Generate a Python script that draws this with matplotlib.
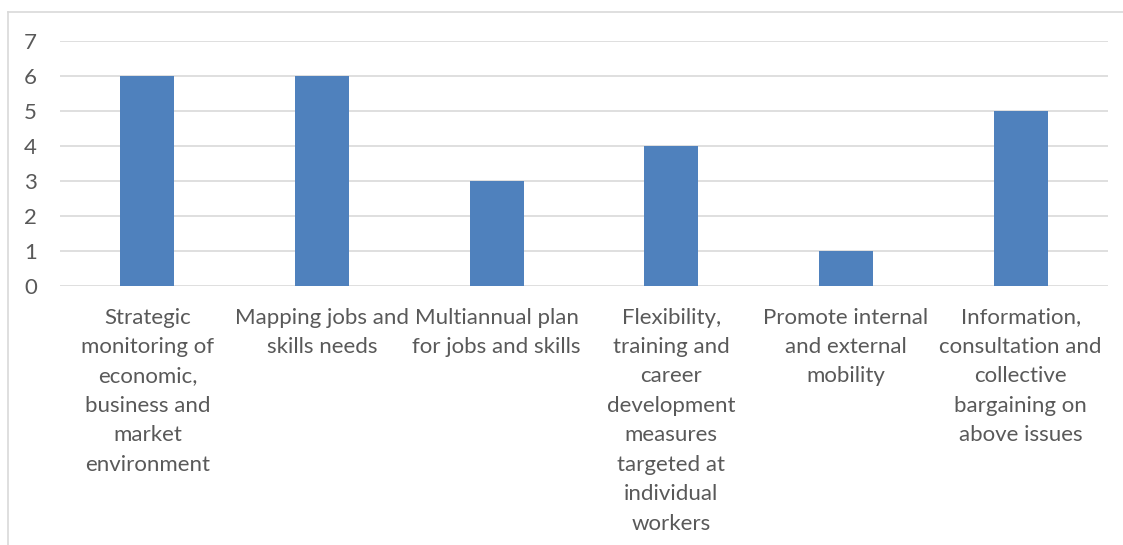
import matplotlib
matplotlib.use("Agg")
import matplotlib.pyplot as plt
from matplotlib.lines import Line2D

categories = [
    "Strategic\nmonitoring of\neconomic,\nbusiness and\nmarket\nenvironment",
    "Mapping jobs and\nskills needs",
    "Multiannual plan\nfor jobs and skills",
    "Flexibility,\ntraining and\ncareer\ndevelopment\nmeasures\ntargeted at\nindividual\nworkers",
    "Promote internal\nand external\nmobility",
    "Information,\nconsultation and\ncollective\nbargaining on\nabove issues",
]
values = [6, 6, 3, 4, 1, 5]
yticks = [0, 1, 2, 3, 4, 5, 6, 7]

plt.rcParams['font.family'] = ['Lato', 'DejaVu Sans']
text_color = "#595959"
grid_color = "#d9d9d9"
bar_color = "#4f81bd"

W, H = 1123, 545
fig = plt.figure(figsize=(W / 100, H / 100), dpi=100)
ax = fig.add_axes([60 / W, 1 - 286 / H, (1108 - 60) / W, (286 - 41) / H])

x = list(range(len(categories)))
ax.bar(x, values, width=0.31, color=bar_color, zorder=3)
ax.set_xlim(-0.5, len(categories) - 0.5)
ax.set_ylim(0, 7)
ax.set_yticks(yticks)
ax.set_yticklabels([str(v) for v in yticks], fontsize=16, color=text_color)
ax.set_xticks(x)
ax.set_xticklabels(categories, fontsize=16, color=text_color, linespacing=1.59, va="top")
ax.tick_params(axis="both", length=0)
ax.tick_params(axis="x", pad=15.5)
ax.tick_params(axis="y", pad=16.5)
ax.grid(axis="y", color=grid_color, linewidth=1.2, zorder=0)
for s in ax.spines.values():
    s.set_visible(False)

# outer chart frame (partially cropped)
fig.add_artist(Line2D([8 / W, 8 / W], [0, 1 - 12 / H], transform=fig.transFigure, color=grid_color, linewidth=1.2))
fig.add_artist(Line2D([8 / W, 1], [1 - 12 / H, 1 - 12 / H], transform=fig.transFigure, color=grid_color, linewidth=1.2))

fig.savefig("out.png", dpi=100)
